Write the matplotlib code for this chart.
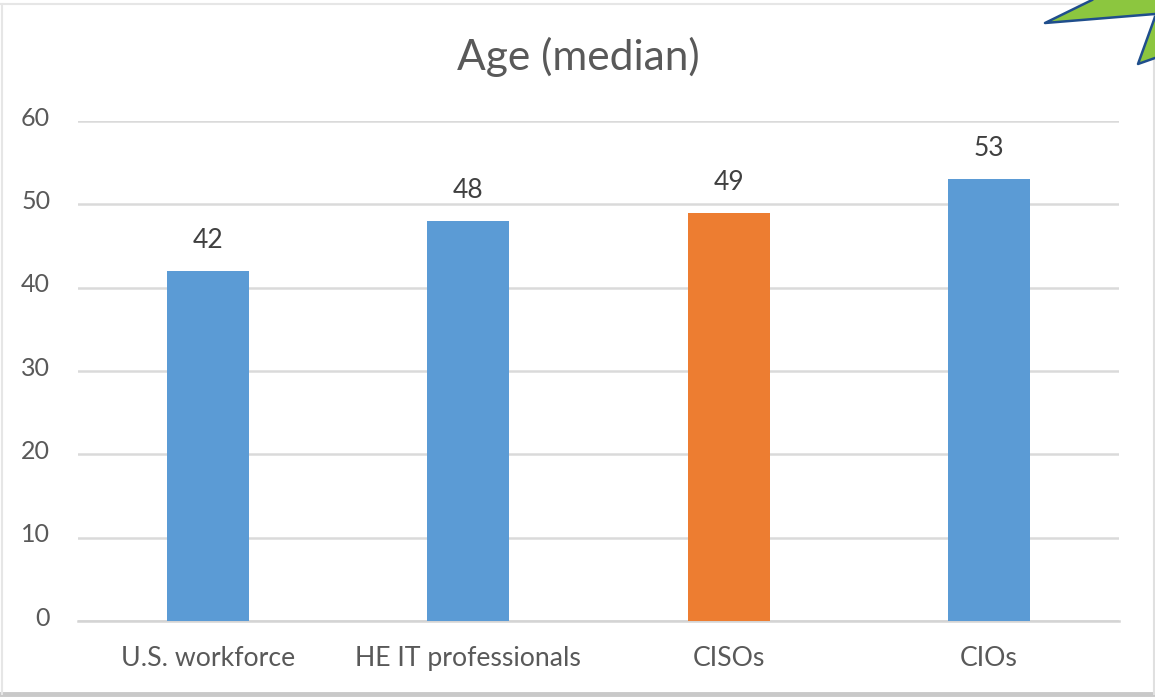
import matplotlib
matplotlib.use("Agg")
import matplotlib.pyplot as plt
from matplotlib.lines import Line2D
from matplotlib.patches import Polygon

categories = ["U.S. workforce", "HE IT professionals", "CISOs", "CIOs"]
values = [42, 48, 49, 53]
bar_colors = ["#5B9BD5", "#5B9BD5", "#ED7D31", "#5B9BD5"]
y_ticks = [0, 10, 20, 30, 40, 50, 60]
title = "Age (median)"

W, H = 1155, 698
plt.rcParams['font.family'] = ['Lato', 'DejaVu Sans']
fig = plt.figure(figsize=(W / 100, H / 100), dpi=100, facecolor="white")


def px(x, y):
    return (x / W, 1 - y / H)


def frame_line(p, q, color, lw):
    a, b = px(*p), px(*q)
    fig.add_artist(Line2D([a[0], b[0]], [a[1], b[1]], transform=fig.transFigure,
                          color=color, linewidth=lw, zorder=1))


# frame of the pasted chart
frame_line((0, 4), (1155, 4), "#E6E6E6", 1.5)
frame_line((0, 694), (1155, 694), "#C9C9C9", 3.5)
frame_line((2, 4), (2, 694), "#E6E6E6", 1.5)
frame_line((1154, 4), (1154, 694), "#E0E0E0", 1.5)

ax = fig.add_axes([78 / W, 1 - 621 / H, (1119 - 78) / W, (621 - 121) / H])
ax.patch.set_alpha(0)
positions = range(len(categories))
ax.bar(positions, values, width=0.315, color=bar_colors, zorder=3)
ax.set_xlim(-0.5, len(categories) - 0.5)
ax.set_ylim(0, 60)
ax.set_yticks(y_ticks)
ax.set_xticks(list(positions))
ax.set_xticklabels(categories, fontsize=19.2)
ax.grid(axis="y", color="#DADADA", linewidth=1.8, zorder=0)
ax.set_axisbelow(True)
for side in ["top", "right", "left"]:
    ax.spines[side].set_visible(False)
ax.spines["bottom"].set_color("#D4D4D4")
ax.spines["bottom"].set_linewidth(1.8)
ax.tick_params(axis="both", length=0, labelcolor="#595959")
ax.tick_params(axis="y", pad=20, labelsize=18)
ax.tick_params(axis="x", pad=18)
for label in ax.get_yticklabels():
    label.set_y(label.get_position()[1])
    label.set_verticalalignment("center")
    label.set_transform(label.get_transform() + matplotlib.transforms.ScaledTranslation(0, 3 / 72 * 0.72, fig.dpi_scale_trans))
for p, v in zip(positions, values):
    ax.annotate(str(v), (p, v), xytext=(0, 13), textcoords="offset points",
                ha="center", va="bottom", fontsize=19, color="#404040")

fig.text(578 / W, 1 - 57 / H, title, ha="center", va="center",
         fontsize=30.6, color="#595959")

# green star corner overlapping the top right
star_parts = (
    [(1045, 23), (1092, 0), (1155, 0), (1155, 14)],
    [(1155, 17), (1138, 64), (1155, 58)],
)
star_edges = (
    [(1092, 0), (1045, 23), (1155, 14)],
    [(1155, 17), (1138, 64), (1155, 58)],
)
for fill_pts, edge_pts in zip(star_parts, star_edges):
    fig.add_artist(Polygon([px(*q) for q in fill_pts], closed=True,
                           transform=fig.transFigure, facecolor="#8CC63F",
                           edgecolor="none", zorder=5))
    xs, ys = zip(*[px(*q) for q in edge_pts])
    fig.add_artist(Line2D(xs, ys, transform=fig.transFigure, color="#1F4E8C",
                          linewidth=1.8, zorder=6))

fig.savefig("out.png", dpi=100, facecolor="white")
